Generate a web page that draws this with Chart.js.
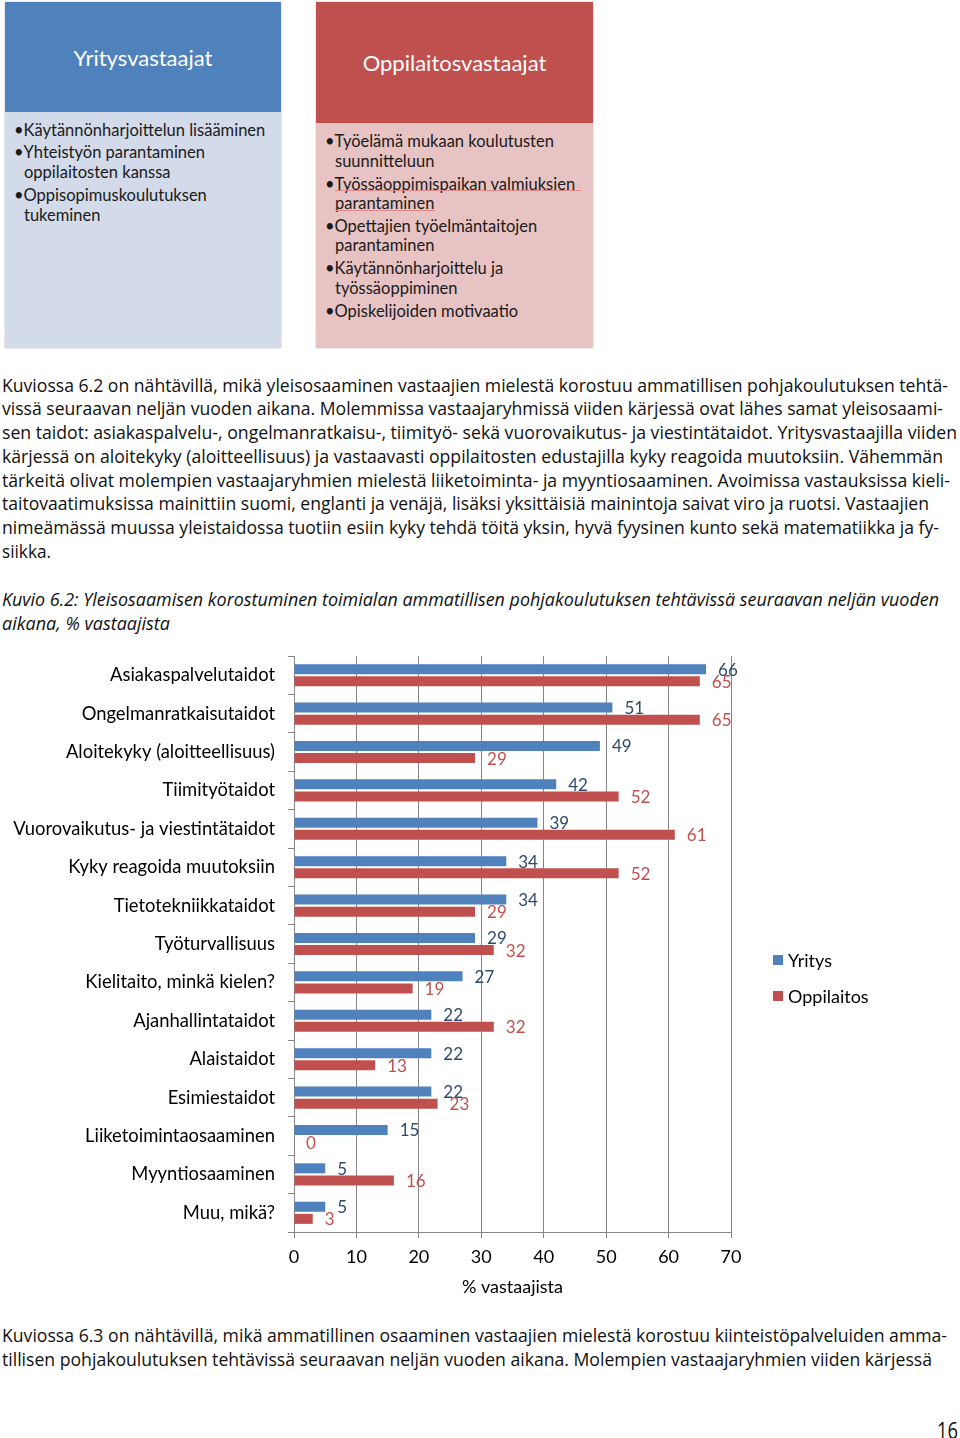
<!DOCTYPE html>
<html lang="fi">
<head>
<meta charset="utf-8">
<title>Kuvio 6.2</title>
<script src="https://cdn.jsdelivr.net/npm/chart.js@4.4.1/dist/chart.umd.min.js"></script>
<style>
  html, body { margin: 0; padding: 0; background: #fff; }
  #page { position: relative; width: 960px; height: 1438px; overflow: hidden; font-family: "Lato", "Open Sans", sans-serif; color: #111; }
  .box { position: absolute; top: 2px; height: 346px; box-shadow: 0 0 2px rgba(0,0,0,0.25); }
  .head { position: absolute; left: 0; right: 0; top: 0; color: #fff; font-size: 22px; display: flex; align-items: center; justify-content: center; }
  .bl { position: absolute; font-size: 16.5px; white-space: nowrap; line-height: 20px; color: #1a1a1a; }
  .uline { position: absolute; height: 1px; background: #e08a88; }
  .ln { position: absolute; left: 2px; white-space: nowrap; font-family: "Liberation Sans Narrow", "Open Sans", sans-serif; font-size: 19px; line-height: 24px; color: #111; transform-origin: 0 50%; }
  .it { font-style: italic; }
  #chartWrap { position: absolute; left: 0; top: 645px; width: 960px; height: 660px; }
  .leg { position: absolute; left: 773px; font-size: 18px; line-height: 20px; color: #000; white-space: nowrap; }
  .leg i { position: absolute; left: 0; top: 5px; width: 10px; height: 10px; }
  .leg span { position: absolute; left: 15px; top: 0; }
</style>
</head>
<body>
<div id="page">

  <!-- yritysvastaajat -->
  <div class="box" style="left:5px; width:276px; background:#D3DAE9;">
    <div class="head" style="height:110px; background:#4F81BD;">Yritysvastaajat</div>
  </div>
  <div class="bl" style="left:14px; top:120px;">•Käytännönharjoittelun lisääminen</div>
  <div class="bl" style="left:14px; top:142px;">•Yhteistyön parantaminen</div>
  <div class="bl" style="left:24px; top:162px;">oppilaitosten kanssa</div>
  <div class="bl" style="left:14px; top:185px;">•Oppisopimuskoulutuksen</div>
  <div class="bl" style="left:24px; top:205px;">tukeminen</div>

  <!-- oppilaitosvastaajat -->
  <div class="box" style="left:316px; width:277px; background:#E7C3C3;">
    <div class="head" style="height:121px; background:#C0504D;">Oppilaitosvastaajat</div>
  </div>
  <div class="bl" style="left:325px; top:131px;">•Työelämä mukaan koulutusten</div>
  <div class="bl" style="left:335px; top:151px;">suunnitteluun</div>
  <div class="bl" style="left:325px; top:174px;">•Työssäoppimispaikan valmiuksien</div>
  <div class="uline" style="left:335px; top:190px; width:246px;"></div>
  <div class="bl" style="left:335px; top:193px;">parantaminen</div>
  <div class="uline" style="left:335px; top:210px; width:100px;"></div>
  <div class="bl" style="left:325px; top:216px;">•Opettajien työelmäntaitojen</div>
  <div class="bl" style="left:335px; top:235px;">parantaminen</div>
  <div class="bl" style="left:325px; top:258px;">•Käytännönharjoittelu ja</div>
  <div class="bl" style="left:335px; top:278px;">työssäoppiminen</div>
  <div class="bl" style="left:325px; top:301px;">•Opiskelijoiden motivaatio</div>

  <!-- leipäteksti -->
  <div class="ln" data-w="946" style="top:373px;">Kuviossa 6.2 on nähtävillä, mikä yleisosaaminen vastaajien mielestä korostuu ammatillisen pohjakoulutuksen tehtä-</div>
  <div class="ln" data-w="941" style="top:396px;">vissä seuraavan neljän vuoden aikana. Molemmissa vastaajaryhmissä viiden kärjessä ovat lähes samat yleisosaami-</div>
  <div class="ln" data-w="955" style="top:420px;">sen taidot: asiakaspalvelu-, ongelmanratkaisu-, tiimityö- sekä vuorovaikutus- ja viestintätaidot. Yritysvastaajilla viiden</div>
  <div class="ln" data-w="941" style="top:444px;">kärjessä on aloitekyky (aloitteellisuus) ja vastaavasti oppilaitosten edustajilla kyky reagoida muutoksiin. Vähemmän</div>
  <div class="ln" data-w="948" style="top:468px;">tärkeitä olivat molempien vastaajaryhmien mielestä liiketoiminta- ja myyntiosaaminen. Avoimissa vastauksissa kieli-</div>
  <div class="ln" data-w="927" style="top:491px;">taitovaatimuksissa mainittiin suomi, englanti ja venäjä, lisäksi yksittäisiä mainintoja saivat viro ja ruotsi. Vastaajien</div>
  <div class="ln" data-w="937" style="top:515px;">nimeämässä muussa yleistaidossa tuotiin esiin kyky tehdä töitä yksin, hyvä fyysinen kunto sekä matematiikka ja fy-</div>
  <div class="ln" data-w="49" style="top:539px;">siikka.</div>

  <div class="ln it" data-w="937" style="top:587px;">Kuvio 6.2: Yleisosaamisen korostuminen toimialan ammatillisen pohjakoulutuksen tehtävissä seuraavan neljän vuoden</div>
  <div class="ln it" data-w="168" style="top:611px;">aikana, % vastaajista</div>

  <div id="chartWrap"><canvas id="skillChart" width="960" height="660"></canvas></div>

  <div class="leg" style="top:950px;"><i style="background:#4F81BD;"></i><span>Yritys</span></div>
  <div class="leg" style="top:986px;"><i style="background:#C0504D;"></i><span>Oppilaitos</span></div>

  <div class="ln" data-w="945" style="top:1323px;">Kuviossa 6.3 on nähtävillä, mikä ammatillinen osaaminen vastaajien mielestä korostuu kiinteistöpalveluiden amma-</div>
  <div class="ln" data-w="930" style="top:1347px;">tillisen pohjakoulutuksen tehtävissä seuraavan neljän vuoden aikana. Molempien vastaajaryhmien viiden kärjessä</div>

  <div class="ln" data-w="21" style="left:937px; top:1416px; font-size:24px; line-height:28px;">16</div>
</div>

<script>
// stretch / squeeze each text line to the width it has in the original
document.querySelectorAll(".ln").forEach(el => {
  const w = el.getBoundingClientRect().width;
  const target = parseFloat(el.dataset.w);
  el.style.transform = "scaleX(" + (target / w) + ")";
});

// chart data
const skills = [
  "Asiakaspalvelutaidot",
  "Ongelmanratkaisutaidot",
  "Aloitekyky (aloitteellisuus)",
  "Tiimityötaidot",
  "Vuorovaikutus- ja viestintätaidot",
  "Kyky reagoida muutoksiin",
  "Tietotekniikkataidot",
  "Työturvallisuus",
  "Kielitaito, minkä kielen?",
  "Ajanhallintataidot",
  "Alaistaidot",
  "Esimiestaidot",
  "Liiketoimintaosaaminen",
  "Myyntiosaaminen",
  "Muu, mikä?"
];
const yritys = [66, 51, 49, 42, 39, 34, 34, 29, 27, 22, 22, 22, 15, 5, 5];
const oppilaitos = [65, 65, 29, 52, 61, 52, 29, 32, 19, 32, 13, 23, 0, 16, 3];
const xTicks = [0, 10, 20, 30, 40, 50, 60, 70];

const labelColors = ["#2E4A6E", "#C0504D"];

// value labels after the bar ends
const valueLabels = {
  id: "valueLabels",
  afterDatasetsDraw(chart) {
    const ctx = chart.ctx;
    ctx.save();
    ctx.font = "17px Lato, sans-serif";
    ctx.textAlign = "left";
    ctx.textBaseline = "middle";
    chart.data.datasets.forEach((ds, i) => {
      ctx.fillStyle = labelColors[i];
      chart.getDatasetMeta(i).data.forEach((bar, j) => {
        ctx.fillText(String(ds.data[j]), bar.x + 12, bar.y + 1);
      });
    });
    ctx.restore();
  }
};

new Chart(document.getElementById("skillChart"), {
  type: "bar",
  data: {
    labels: skills,
    datasets: [
      { label: "Yritys", data: yritys, backgroundColor: "#4F81BD" },
      { label: "Oppilaitos", data: oppilaitos, backgroundColor: "#C0504D" }
    ]
  },
  options: {
    indexAxis: "y",
    responsive: false,
    animation: false,
    devicePixelRatio: 1,
    barPercentage: 0.83,
    categoryPercentage: 0.63,
    layout: { padding: { left: 0, right: 229, top: 11, bottom: 0 } },
    plugins: {
      legend: { display: false },
      tooltip: { enabled: false }
    },
    scales: {
      x: {
        min: 0,
        max: 70,
        afterBuildTicks: axis => { axis.ticks = xTicks.map(v => ({ value: v })); },
        afterFit: axis => {
          axis.height = 73;
          axis.paddingLeft = 0;
          axis.paddingRight = 0;
        },
        ticks: { color: "#000", font: { family: "Lato", size: 18 }, padding: 8 },
        grid: { color: "#868686", lineWidth: 1, tickLength: 6 },
        border: { color: "#868686" },
        title: { display: true, text: "% vastaajista", color: "#000", font: { family: "Lato", size: 18 }, padding: { top: 0, bottom: 7 } }
      },
      y: {
        afterFit: axis => {
          axis.width = 294;
          axis.paddingTop = 0;
          axis.paddingBottom = 0;
        },
        ticks: { color: "#000", font: { family: "Lato", size: 18.4 }, padding: 13, autoSkip: false },
        grid: { drawOnChartArea: false, color: "#868686", tickLength: 6, offset: true },
        border: { color: "#868686" }
      }
    }
  },
  plugins: [valueLabels]
});
</script>
</body>
</html>
